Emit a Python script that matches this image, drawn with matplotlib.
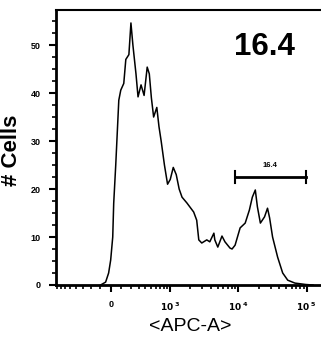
import numpy as np
import matplotlib
matplotlib.use('Agg')
import matplotlib.pyplot as plt

plt.rcParams['font.family'] = ['Liberation Sans', 'DejaVu Sans']

# histogram of APC-A (values in APC units, counts per bin)
apc = [-95, -47, -19, 0, 19, 28, 47, 76, 95, 125, 146, 179, 202, 225, 263, 290,
       332, 378, 429, 466, 505, 550, 619, 670, 725, 815, 910, 1000, 1110, 1230,
       1360, 1500, 1770, 2230, 2470, 2650, 2930, 3470, 3840, 4410, 4550, 5030,
       5790, 6400, 7580, 8130, 9000, 10660, 12640, 14540, 16070, 17760, 19050,
       21060, 24220, 26770, 28710, 31730, 37610, 44580, 52840, 67180, 97300, 123700]
cells = [0, 0.6, 2.5, 5.2, 10, 17, 25, 38.5, 40.6, 42, 47, 48, 54.6, 50, 44, 39.2,
         41.7, 39.5, 45.4, 44, 39, 35, 37, 33, 30, 25, 21, 22, 24.5, 23,
         20, 18.3, 17.1, 15.2, 13.5, 9.4, 8.75, 9.4, 9, 10.8, 9.4, 7.9,
         10.2, 9, 7.7, 7.5, 8.3, 11.9, 12.9, 15.6, 18.3, 19.8, 16.3,
         12.9, 14.2, 16, 14, 10, 5.8, 2.5, 1, 0.4, 0.1, 0]

gate_lo, gate_hi, gate_y = 8900, 97000, 22.5
gate_label = '16.4'

major_x = [0, 1e3, 1e4, 1e5]
major_x_labels = ['0', r'$\mathbf{10^{\ 3}}$', r'$\mathbf{10^{\ 4}}$', r'$\mathbf{10^{\ 5}}$']

C = 275.0
fwd = lambda x: np.arcsinh(np.asarray(x, dtype=float) / C)
inv = lambda y: C * np.sinh(np.asarray(y, dtype=float))

fig = plt.figure(figsize=(3.21, 3.37), dpi=100)
ax = fig.add_axes([56 / 321, 1 - 285 / 337, 1 - 56 / 321 + 0.01, (285 - 10) / 337])
ax.set_xscale('function', functions=(fwd, inv))

ax.plot(apc, cells, color='black', lw=1.1)

ax.set_xlim(-842, 180000)
ax.set_ylim(0, 57.3)

minor_x = [-v for v in range(100, 900, 100)] + list(range(100, 1000, 100)) \
    + list(range(2000, 10000, 1000)) + list(range(20000, 100000, 10000))
ax.set_xticks(major_x)
ax.set_xticklabels(major_x_labels)
ax.set_xticks(minor_x, minor=True)
ax.set_yticks([0, 10, 20, 30, 40, 50])
ax.set_yticks(np.arange(0, 57.5, 2.5), minor=True)

ax.tick_params(axis='both', which='major', length=5, width=1.5, labelsize=6.5, pad=6)
ax.tick_params(axis='both', which='minor', length=3, width=1.2)
for lab in ax.get_xticklabels() + ax.get_yticklabels():
    lab.set_fontweight('bold')

ax.spines['right'].set_visible(False)
ax.spines['left'].set_linewidth(2)
ax.spines['bottom'].set_linewidth(2)
ax.spines['top'].set_linewidth(1.5)

ax.set_ylabel('# Cells', fontsize=16, fontweight='bold')
ax.yaxis.set_label_coords(-0.125, 0.49)
ax.set_xlabel('<APC-A>', fontsize=14, labelpad=4)

# gate
ax.plot([gate_lo, gate_hi], [gate_y, gate_y], color='black', lw=2)
ax.plot([gate_lo, gate_lo], [gate_y - 1.2, gate_y + 1.2], color='black', lw=1.5)
ax.plot([gate_hi, gate_hi], [gate_y - 1.2, gate_y + 1.2], color='black', lw=1.5)
ax.text(np.sqrt(gate_lo * gate_hi), gate_y + 1.6, gate_label, fontsize=5.5,
        fontweight='bold', ha='center', va='bottom')

ax.text(0.776, 0.864, gate_label, transform=ax.transAxes, fontsize=22.5,
        fontweight='bold', ha='center', va='center')

fig.savefig('out.png', dpi=100)
